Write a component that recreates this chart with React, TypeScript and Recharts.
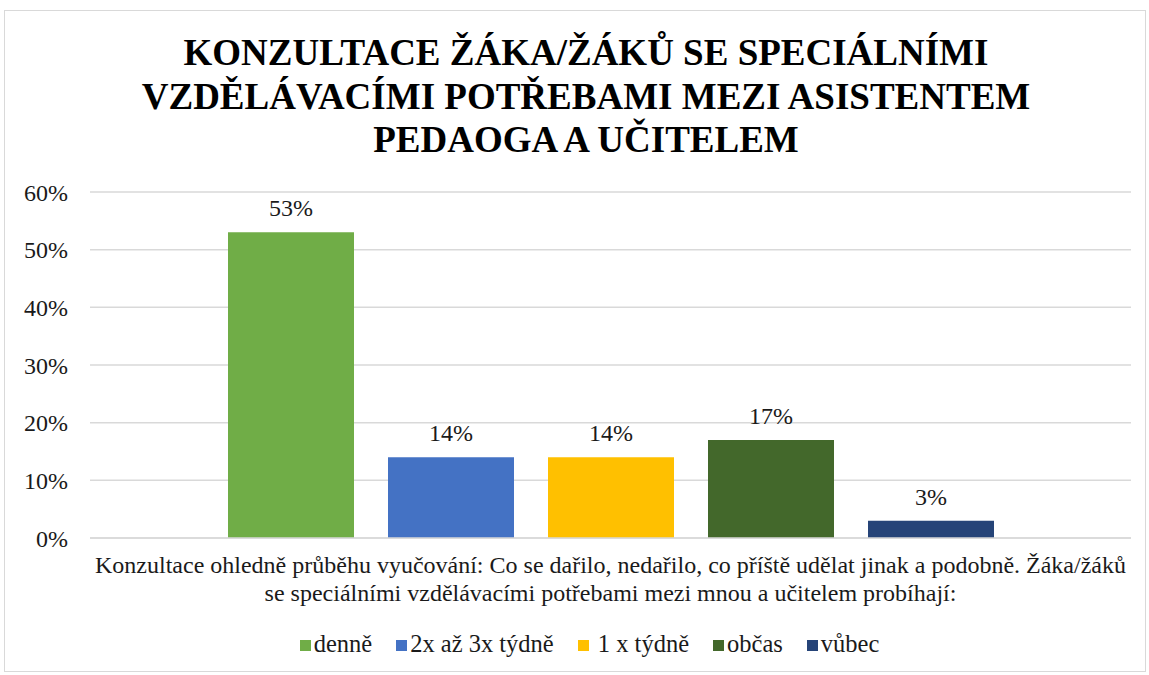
import React from 'react';
import { BarChart, Bar, XAxis, YAxis, CartesianGrid, LabelList, Legend } from 'recharts';

const titleLines = [
  'KONZULTACE ŽÁKA/ŽÁKŮ SE SPECIÁLNÍMI',
  'VZDĚLÁVACÍMI POTŘEBAMI MEZI ASISTENTEM',
  'PEDAOGA A UČITELEM',
];
const categoryLines = [
  'Konzultace ohledně průběhu vyučování: Co se dařilo, nedařilo, co příště udělat jinak a podobně. Žáka/žáků',
  'se speciálními vzdělávacími potřebami mezi mnou a učitelem probíhají:',
];
const seriesKeys = ['denne', 'tyden23', 'tyden1', 'obcas', 'vubec'];
const seriesNames = ['denně', '2x až 3x týdně', ' 1 x týdně', 'občas', 'vůbec'];
const seriesColors = ['#70AD47', '#4472C4', '#FFC000', '#43682B', '#264478'];
const seriesValues = [0.53, 0.14, 0.14, 0.17, 0.03];
const yTicks = [0, 0.1, 0.2, 0.3, 0.4, 0.5, 0.6];

const row: Record<string, any> = { category: categoryLines.join(' ') };
seriesKeys.forEach((k, i) => (row[k] = seriesValues[i]));
const data = [row];

const FONT = '"Liberation Serif", "Times New Roman", serif';
const pct = (v: number) => `${Math.round(v * 100)}%`;

const CategoryTick = (props: any) => {
  const { x, y } = props;
  return (
    <g>
      {categoryLines.map((line, i) => (
        <text key={i} x={x} y={y + 27 + i * 28} textAnchor="middle" fontFamily={FONT} fontSize={24} fill="#1a1a1a">
          {line}
        </text>
      ))}
    </g>
  );
};

const LegendContent = (props: any) => {
  const items = [...(props.payload || [])].sort(
    (a: any, b: any) => seriesNames.indexOf(a.value) - seriesNames.indexOf(b.value)
  );
  return (
    <div style={{ display: 'flex', justifyContent: 'center', fontFamily: FONT, fontSize: 24.5, color: '#1a1a1a', lineHeight: '28px', paddingLeft: 30 }}>
      {items.map((p: any, i: number) => (
        <div key={i} style={{ display: 'flex', alignItems: 'center', marginRight: i < items.length - 1 ? 24 : 0 }}>
          <span style={{ display: 'inline-block', width: 11, height: 11, background: p.color, marginRight: 3, marginTop: 2 }} />
          <span style={{ whiteSpace: 'pre' }}>{p.value}</span>
        </div>
      ))}
    </div>
  );
};

export default function App() {
  return (
    <div style={{ position: 'absolute', left: 0, top: 0, width: 1149, height: 675, background: '#fff' }}>
      <div style={{ position: 'absolute', left: 4, top: 10, width: 1142, height: 662, border: '1px solid #d9d9d9', boxSizing: 'border-box' }} />
      <svg width={1149} height={170} style={{ position: 'absolute', left: 0, top: 0 }}>
        {titleLines.map((t, i) => (
          <text
            key={i}
            x={586}
            y={65 + i * 43.5}
            textAnchor="middle"
            fontFamily={FONT}
            fontWeight="bold"
            fontSize={37}
            fill="#000"
          >
            {t}
          </text>
        ))}
      </svg>
      <div style={{ position: 'absolute', left: 0, top: 0 }}>
        <BarChart
          width={1149}
          height={675}
          data={data}
          margin={{ top: 192, right: 18, bottom: 77, left: 0 }}
          barGap={34}
          barSize={126}
        >
          <CartesianGrid vertical={false} stroke="#d9d9d9" strokeWidth={1.5} />
          <XAxis
            dataKey="category"
            height={60}
            axisLine={{ stroke: '#d9d9d9', strokeWidth: 1.5 }}
            tickLine={false}
            tick={<CategoryTick />}
            interval={0}
          />
          <YAxis
            width={90}
            domain={[0, 0.6]}
            ticks={yTicks}
            tickFormatter={pct}
            axisLine={false}
            tickLine={false}
            tickSize={0}
            tickMargin={22}
            tick={{ fontFamily: FONT, fontSize: 24, fill: '#1a1a1a' }}
          />
          <Legend
            verticalAlign="middle"
            align="center"
            layout="horizontal"
            itemSorter={null as any}
            wrapperStyle={{ top: 630, left: 0, width: 1149 }}
            content={<LegendContent />}
          />
          {seriesKeys.map((k, i) => (
            <Bar key={k} dataKey={k} name={seriesNames[i]} fill={seriesColors[i]} isAnimationActive={false}>
              <LabelList
                dataKey={k}
                position="top"
                offset={16}
                formatter={pct}
                style={{ fontFamily: FONT, fontSize: 24, fill: '#1a1a1a' }}
              />
            </Bar>
          ))}
        </BarChart>
      </div>
    </div>
  );
}
